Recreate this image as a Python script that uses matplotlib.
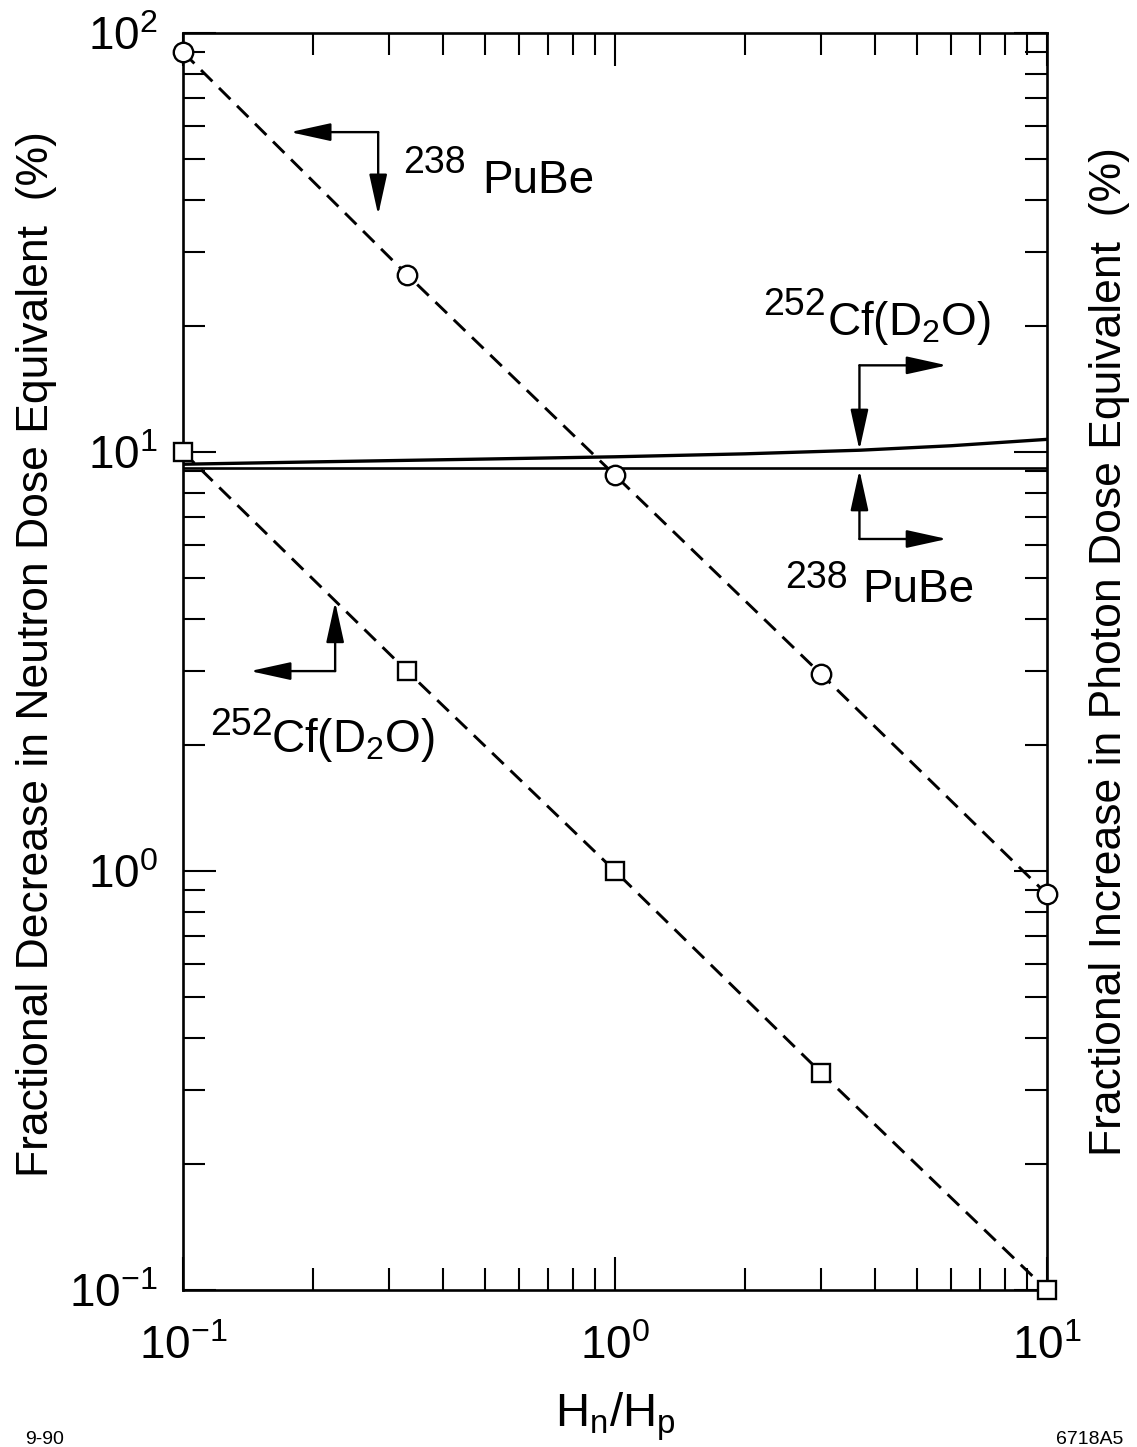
import numpy as np
import matplotlib
matplotlib.use('Agg')
from matplotlib import pyplot as plt
from matplotlib import ticker

plt.rcParams['font.family'] = ['Liberation Sans', 'DejaVu Sans']
plt.rcParams['mathtext.fontset'] = 'custom'
plt.rcParams['mathtext.rm'] = 'Liberation Sans'
plt.rcParams['mathtext.it'] = 'Liberation Sans:italic'
plt.rcParams['mathtext.bf'] = 'Liberation Sans:bold'

# neutron dose decrease (left axis)
hn_hp = [0.1, 0.33, 1.0, 3.0, 10.0]
pube_neutron = [90.0, 26.5, 8.8, 2.95, 0.88]
cf_neutron = [10.0, 3.0, 1.0, 0.33, 0.1]

# photon dose increase (right axis, same scale)
cf_photon_x = [0.1, 0.2, 0.5, 1.0, 2.0, 3.7, 6.0, 10.0]
cf_photon = [9.35, 9.47, 9.62, 9.74, 9.9, 10.1, 10.35, 10.72]
pube_photon_x = [0.1, 10.0]
pube_photon = [9.15, 9.15]

xticks = [0.1, 1.0, 10.0]
xtick_labels = [r'$\mathregular{10^{-1}}$', r'$\mathregular{10^{0}}$', r'$\mathregular{10^{1}}$']
yticks = [0.1, 1.0, 10.0, 100.0]
ytick_labels = [r'$\mathregular{10^{-1}}$', r'$\mathregular{10^{0}}$',
                r'$\mathregular{10^{1}}$', r'$\mathregular{10^{2}}$']

fig = plt.figure(figsize=(11.37, 14.47), dpi=100)
ax = fig.add_axes([183 / 1137, 157 / 1447, 864 / 1137, 1257 / 1447])
ax.set_xscale('log')
ax.set_yscale('log')
ax.set_xlim(0.1, 10)
ax.set_ylim(0.1, 100)

# solid photon curves
ax.plot(cf_photon_x, cf_photon, color='k', lw=2.4)
ax.plot(pube_photon_x, pube_photon, color='k', lw=1.9)

# dashed neutron curves with open markers
ax.plot(hn_hp, pube_neutron, color='k', lw=2.1, ls=(0, (5.5, 3.2)),
        marker='o', ms=14, mfc='white', mec='k', mew=1.7, clip_on=False, zorder=5)
ax.plot(hn_hp, cf_neutron, color='k', lw=2.1, ls=(0, (5.5, 3.2)),
        marker='s', ms=13, mfc='white', mec='k', mew=1.7, clip_on=False, zorder=5)

# axes styling
for s in ax.spines.values():
    s.set_linewidth(1.9)
ax.xaxis.set_major_locator(ticker.FixedLocator(xticks))
ax.yaxis.set_major_locator(ticker.FixedLocator(yticks))
ax.xaxis.set_minor_locator(ticker.LogLocator(base=10, subs=np.arange(2, 10)))
ax.yaxis.set_minor_locator(ticker.LogLocator(base=10, subs=np.arange(2, 10)))
ax.xaxis.set_minor_formatter(ticker.NullFormatter())
ax.yaxis.set_minor_formatter(ticker.NullFormatter())
ax.set_xticklabels(xtick_labels)
ax.set_yticklabels(ytick_labels)
ax.tick_params(which='both', direction='in', top=True, right=True, width=1.5)
ax.tick_params(which='major', length=24, labelsize=33)
ax.tick_params(which='minor', length=16)
ax.tick_params(axis='y', which='major', pad=18)
ax.tick_params(axis='x', which='major', pad=25)

ax.set_xlabel(r'$\mathregular{H_n/H_p}$', fontsize=34, labelpad=16)
fig.text(37 / 1137, 1 - 654 / 1447, 'Fractional Decrease in Neutron Dose Equivalent  (%)',
         rotation=90, ha='center', va='center', fontsize=32)
fig.text(1110 / 1137, 1 - 652 / 1447, 'Fractional Increase in Photon Dose Equivalent  (%)',
         rotation=90, ha='center', va='center', fontsize=32)


def corner_arrow(corner, tip_h, tip_v):
    props = dict(arrowstyle='-|>,head_length=2.5,head_width=0.55', mutation_scale=10,
                 lw=1.7, color='k', shrinkA=0, shrinkB=0)
    ax.annotate('', xy=tip_h, xytext=corner, arrowprops=props)
    ax.annotate('', xy=tip_v, xytext=corner, arrowprops=props)


corner_arrow((0.283, 58.0), (0.177, 58.0), (0.283, 36.8))
corner_arrow((0.225, 3.0), (0.143, 3.0), (0.225, 4.39))
corner_arrow((3.68, 16.1), (5.87, 16.1), (3.68, 10.11))
corner_arrow((3.68, 6.2), (5.87, 6.2), (3.68, 9.06))

# labels on the curves
ax.text(0.323, 54.0, '238', fontsize=27, va='top', ha='left')
ax.text(0.492, 41.5, 'PuBe', fontsize=33, va='baseline', ha='left')
ax.text(2.20, 24.8, '252', fontsize=27, va='top', ha='left')
ax.text(3.10, 19.0, r'$\mathregular{Cf(D_2O)}$', fontsize=33, va='baseline', ha='left')
ax.text(2.47, 5.52, '238', fontsize=27, va='top', ha='left')
ax.text(3.73, 4.39, 'PuBe', fontsize=33, va='baseline', ha='left')
ax.text(0.1155, 2.46, '252', fontsize=27, va='top', ha='left')
ax.text(0.160, 1.92, r'$\mathregular{Cf(D_2O)}$', fontsize=33, va='baseline', ha='left')

fig.text(25 / 1137, 3 / 1447, '9-90', fontsize=14, va='baseline', ha='left')
fig.text(1123 / 1137, 3 / 1447, '6718A5', fontsize=14, va='baseline', ha='right')

fig.savefig('out.png', dpi=100)
